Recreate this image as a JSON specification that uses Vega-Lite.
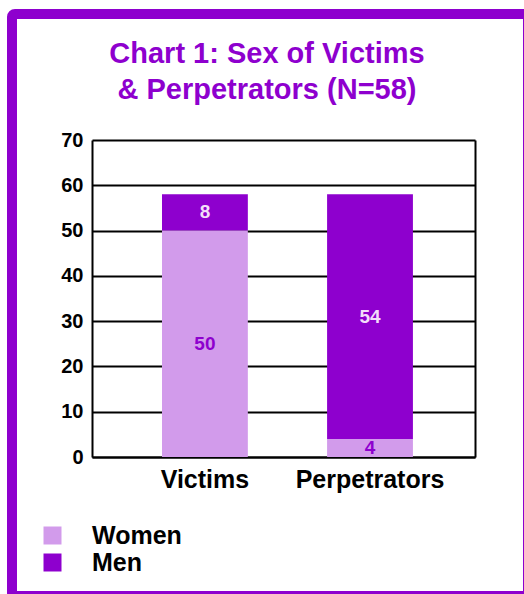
{
  "$schema": "https://vega.github.io/schema/vega-lite/v6.json",
  "autosize": {"type": "none"},
  "padding": {"left": 12, "top": 14, "right": 0, "bottom": 0},
  "width": 516,
  "height": 582,
  "background": "white",
  "title": {
    "text": ["Chart 1: Sex of Victims", "& Perpetrators (N=58)"],
    "font": "Liberation Sans",
    "fontSize": 29,
    "fontWeight": "bold",
    "color": "#8E00CE",
    "lineHeight": 36,
    "anchor": "middle",
    "baseline": "top",
    "offset": -91,
    "dx": -3
  },
  "config": {
    "view": {"stroke": "#8E00CE", "strokeWidth": 10, "cornerRadius": 3},
    "font": "Liberation Sans"
  },
  "data": {
    "values": [
      {"group": "Victims", "sex": "Women", "count": 50},
      {"group": "Victims", "sex": "Men", "count": 8},
      {"group": "Perpetrators", "sex": "Women", "count": 4},
      {"group": "Perpetrators", "sex": "Men", "count": 54}
    ]
  },
  "resolve": {"axis": {"y": "independent"}},
  "layer": [
    {
      "mark": {"type": "bar"},
      "encoding": {
        "x": {
          "field": "group",
          "type": "nominal",
          "sort": ["Victims", "Perpetrators"],
          "scale": {"range": [80, 463], "paddingInner": 0.48, "paddingOuter": 0.4, "align": 0.53},
          "axis": {
            "title": null,
            "labelAngle": 0,
            "labelFont": "Liberation Sans",
            "labelFontSize": 25,
            "labelFontWeight": "bold",
            "labelColor": "black",
            "labelPadding": 10,
            "ticks": false,
            "domain": true,
            "domainColor": "black",
            "domainWidth": 2,
            "offset": -139
          }
        },
        "y": {
          "field": "count",
          "type": "quantitative",
          "stack": "zero",
          "scale": {"domain": [0, 70], "range": [443, 126], "nice": false, "zero": true},
          "axis": {
            "title": null,
            "values": [0, 10, 20, 30, 40, 50, 60, 70],
            "labelFont": "Liberation Sans",
            "labelFontSize": 20,
            "labelFontWeight": "bold",
            "labelColor": "black",
            "labelPadding": 9,
            "ticks": false,
            "grid": true,
            "gridColor": "black",
            "gridWidth": 2,
            "gridOpacity": 1,
            "domainColor": "black",
            "domainWidth": 2,
            "offset": -80
          }
        },
        "color": {
          "field": "sex",
          "type": "nominal",
          "sort": ["Women", "Men"],
          "scale": {"domain": ["Women", "Men"], "range": ["#D29BEB", "#8E00CE"]},
          "legend": {
            "title": null,
            "orient": "none",
            "legendX": 28,
            "legendY": 509,
            "symbolType": "square",
            "symbolSize": 324,
            "symbolStrokeWidth": 0,
            "symbolOpacity": 1,
            "labelFont": "Liberation Sans",
            "labelFontSize": 25,
            "labelFontWeight": "bold",
            "labelColor": "black",
            "labelOffset": 27,
            "rowPadding": 1
          }
        },
        "order": {"field": "sex", "sort": "descending"}
      }
    },
    {
      "mark": {"type": "text", "font": "Liberation Sans", "fontSize": 19, "fontWeight": "bold", "baseline": "middle"},
      "encoding": {
        "x": {"field": "group", "type": "nominal", "sort": ["Victims", "Perpetrators"]},
        "y": {
          "field": "count",
          "type": "quantitative",
          "stack": "zero",
          "bandPosition": 0.5,
          "scale": {"domain": [0, 70], "range": [443, 126], "nice": false, "zero": true},
          "axis": {
            "orient": "right",
            "title": null,
            "labels": false,
            "ticks": false,
            "grid": false,
            "domain": true,
            "domainColor": "black",
            "domainWidth": 2,
            "offset": -53
          }
        },
        "detail": {"field": "sex", "type": "nominal"},
        "order": {"field": "sex", "sort": "descending"},
        "text": {"field": "count", "type": "quantitative"},
        "color": {
          "condition": {"test": "datum.sex === 'Women'", "value": "#8E00CE"},
          "value": "#F3DDF9"
        }
      }
    }
  ]
}
